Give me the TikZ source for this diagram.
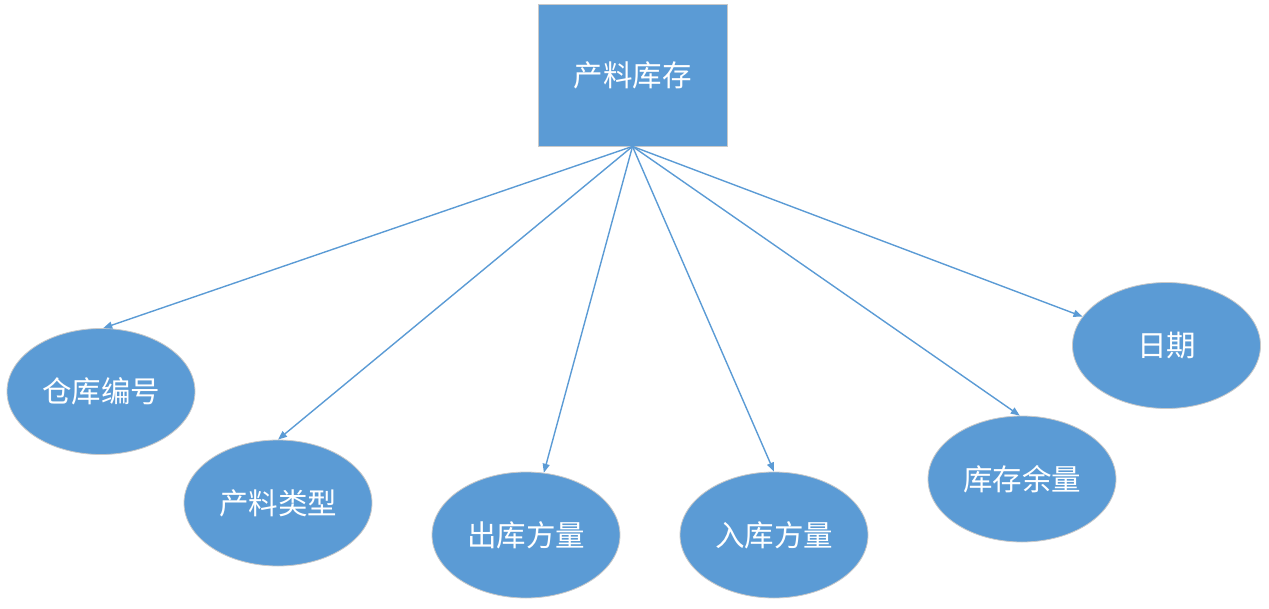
\documentclass[tikz,border=0pt]{standalone}
\usepackage{fontspec}
\newfontfamily\cjk{Noto Sans CJK SC}
\usetikzlibrary{shapes.geometric,arrows.meta}
\definecolor{fillblue}{HTML}{5B9BD5}
\definecolor{edgegray}{HTML}{C9C9C9}
\definecolor{lineblue}{HTML}{5B9BD5}
\tikzset{
  entbox/.style={draw=edgegray, line width=0.8pt, fill=fillblue, minimum width=189pt, minimum height=142pt, inner sep=0pt, text=white, font=\cjk\fontsize{29.5}{31}\selectfont},
  attr/.style={ellipse, draw=edgegray, line width=0.8pt, fill=fillblue, minimum width=188pt, minimum height=126pt, inner sep=0pt, text=white, font=\cjk\fontsize{29.5}{31}\selectfont},
  link/.style={draw=lineblue, line width=1.4pt, -{Triangle[length=9pt,width=7pt]}}
}
\begin{document}
\begin{tikzpicture}[x=1pt,y=-1pt]
\useasboundingbox (0,0) rectangle (1269,608);
\node[entbox] (main) at (632.5,75) {产料库存};
\node[attr] (a1) at (101,391.5) {仓库编号};
\node[attr] (a2) at (278,503) {产料类型};
\node[attr] (a3) at (526,535) {出库方量};
\node[attr] (a4) at (774,535) {入库方量};
\node[attr] (a5) at (1022,479) {库存余量};
\node[attr] (a6) at (1166.5,345.5) {日期};
\coordinate (apex) at (main.south);
\draw[link] (apex) -- (a1.88);
\draw[link] (apex) -- (a2.90);
\draw[link] (apex) -- (a3.74);
\draw[link] (apex) -- (a4.90);
\draw[link] (apex) -- (a5.92);
\draw[link] (apex) -- (a6.161);
\end{tikzpicture}
\end{document}
